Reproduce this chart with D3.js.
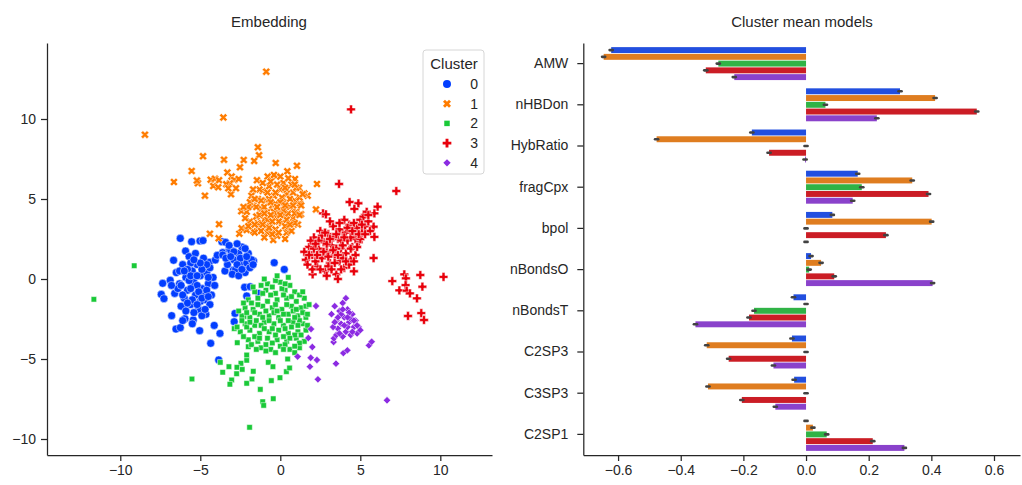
<!DOCTYPE html>
<html>
<head>
<meta charset="utf-8">
<script src="https://cdn.jsdelivr.net/npm/d3@7"></script>
<style>
  body { margin: 0; background: #fff; }
  text { font-family: "Liberation Sans", Arial, sans-serif; fill: #262626; }
  .axis path, .axis line { stroke: #262626; stroke-width: 1.25; }
  .axis text { font-size: 14px; fill: #262626; }
</style>
</head>
<body>
<div id="chart"></div>
<script>
var W = 1022, H = 485;

// ---- data: embedding (left panel), one array per cluster ----
var clusters = ["0", "1", "2", "3", "4"];
var palette = ["#023eff", "#ff7c00", "#1ac938", "#e8000b", "#8b2be2"];

var cluster0 = [
  [-6.25,2.54],[-5.54,2.33],[-5.02,2.38],[-4.83,2.40],[-5.92,1.75],[-6.67,1.17],[-5.46,1.19],
  [-6.88,-0.08],[-7.35,-0.27],[-7.44,-0.96],[-7.27,-1.23],[-6.79,-2.29],[-6.52,-3.13],[-6.25,-3.04],
  [-5.04,-3.23],[-5.44,-2.56],[-5.96,-2.48],[-4.65,-2.21],[-4.13,-2.9],[-3.77,-3.4],[-4.35,-4.02],
  [-3.85,-5.06],[-5.96,-1.79],[-4.44,1.04],[-4.06,1.19],[-3.6,1.65],[-3.65,2.33],[-3.42,2.29],
  [-3.94,1.48],[-3.19,1.85],[-3.0,1.75],[-2.02,1.56],[-1.67,1.13],[-2.73,1.19],[-2.42,0.96],
  [-2.27,0.65],[-2.94,0.56],[-3.46,0.5],[-0.38,1.02],[0.25,0.6],[-2.23,-0.52],[-1.88,-0.48],
  [-2.1,-1.06],[-1.35,-0.9],[-2.83,-2.15],[-2.88,-2.67],
  [-6.5,0.4],[-6.3,-0.3],[-6.1,0.9],[-6.0,-1.2],[-5.9,0.1],[-5.8,-0.7],[-5.7,1.4],[-5.6,-1.6],
  [-5.5,0.5],[-5.4,-0.2],[-5.3,-1.0],[-5.2,0.9],[-5.1,-1.9],[-5.0,0.2],[-4.9,-0.6],[-4.8,1.3],
  [-4.7,-1.3],[-4.6,0.4],[-4.5,-0.3],[-4.4,0.7],[-4.3,-1.0],[-6.6,-0.9],[-6.2,-1.7],[-5.4,-2.1],
  [-4.9,-2.3],[-4.2,0.1],[-5.6,1.0],[-6.4,-0.6],[-5.2,-0.4],[-4.8,-0.9],[-5.9,-2.0],[-4.4,-1.6],
  [-5.3,1.6],[-4.6,0.9],[-6.8,-0.4],[-5.7,-0.1],[-5.0,-1.4],[-4.1,-0.4],[-6.1,-2.6],[-5.5,-2.8],
  [-4.7,-1.9],[-5.8,0.6],[-6.3,0.5],
  [-6.0,0.5],[-5.6,0.2],[-5.2,0.2],[-4.9,0.6],[-4.5,0.1],[-6.2,-0.4],[-5.6,-0.6],[-5.1,-0.8],
  [-4.6,-0.7],[-6.1,-1.0],[-5.5,-1.3],[-4.9,-1.2],[-5.8,-1.5],[-5.2,-1.6],[-4.5,-1.1],[-5.0,1.0],
  [-5.4,1.2],
  [-3.6,1.5],[-3.3,0.9],[-3.1,1.8],[-2.9,1.2],[-2.8,0.6],[-2.6,1.6],[-2.5,0.9],[-2.4,2.0],
  [-2.3,1.3],[-2.2,0.4],[-2.1,1.0],[-2.0,1.6],[-1.9,0.7],[-1.8,1.2],[-3.0,0.3],[-2.7,2.2],
  [-3.4,1.3],[-2.2,1.9],[-1.7,0.9],[-2.6,0.2],[-3.2,2.1],
  [-2.9,1.7],[-2.5,1.3],[-2.1,1.4],[-2.7,0.9],[-3.1,1.4],[-2.4,0.6]
];

var cluster1 = [
  [-0.88,12.96],[-3.56,10.1],[-8.46,9.02],[-6.65,6.06],[-5.54,6.75],[-4.83,7.67],[-3.52,7.46],
  [-2.29,7.44],[-1.4,8.23],[-1.33,7.73],[-1.63,7.38],[-2.52,6.98],[-0.29,7.25],[1.04,7.08],
  [2.29,5.94],[2.23,4.35],[1.71,5.21],[1.29,4.04],[-4.71,5.21],[-3.83,3.42],[-4.4,2.83],
  [-3.85,2.54],[-2.56,2.83],[-2.42,3.17],[-2.44,4.23],[-5.15,5.98],[-5.21,6.15],[-4.35,6.21],
  [-4.08,6.27],[-3.83,6.17],[-4.19,5.81],[-3.88,5.73],[-3.31,6.65],[-3.04,6.4],[-2.88,6.19],
  [-2.6,6.25],[-3.15,5.98],[-3.08,5.29],[-2.77,5.67],[-3.38,5.92],[-3.25,5.67],[0.44,6.73],
  [0.92,6.25],[-0.79,6.4],[-1.46,6.17],[-0.27,6.4],[1.17,5.71],[1.5,5.35],[1.23,4.73],
  [-2.1,3.06],[-1.69,3.0],[-0.44,2.44],[0.4,2.9],
  [-2.1,4.2],[-1.9,3.6],[-1.7,4.6],[-1.5,3.9],[-1.4,5.0],[-1.3,3.3],[-1.2,4.4],[-1.1,5.5],
  [-1.0,3.7],[-0.9,4.9],[-0.8,2.9],[-0.8,4.2],[-0.7,5.8],[-0.6,3.4],[-0.5,4.6],[-0.4,5.2],
  [-0.3,3.9],[-0.2,2.7],[-0.1,4.3],[0.0,5.6],[0.1,3.5],[0.2,4.8],[0.3,4.0],[0.4,5.3],
  [0.5,3.2],[0.6,4.5],[0.7,5.9],[0.8,3.8],[0.9,4.9],[1.0,4.2],[1.1,3.4],[1.2,5.1],
  [-1.6,2.9],[-1.8,5.2],[-2.0,3.3],[-1.0,2.6],[-0.6,6.1],[0.0,6.4],[0.3,2.5],[-0.3,3.1],
  [-1.3,4.0],[-0.9,3.3],[-0.4,4.2],[0.1,5.1],[0.5,4.1],[0.8,5.4],[-1.5,4.5],[-0.7,5.0],
  [-0.2,5.9],[0.4,3.7],[1.3,4.6],[-2.2,3.8],[-1.1,6.0],[0.2,6.0],[-0.5,2.8],[0.7,3.0],
  [1.0,5.7],[-1.9,4.8],[-0.1,3.6],[0.6,5.0],[-0.8,3.7],[-1.4,3.5],[-0.3,4.7],[0.2,4.3],
  [-1.2,4.9],[0.9,4.1],[-0.6,4.0],[0.0,4.8],[-1.0,4.5],[0.4,5.6],
  [-1.6,3.4],[-1.2,3.0],[-0.7,3.2],[-0.1,2.9],[0.3,3.3],[0.9,3.5],[-2.0,4.5],[-1.6,5.0],
  [-1.0,4.1],[-0.6,4.8],[-0.2,4.5],[0.3,4.6],[0.8,4.6],[1.2,4.0],[-1.3,5.6],[-0.8,5.4],
  [-0.3,5.4],[0.3,5.7],[0.9,5.9],[-0.4,6.5],[0.5,6.3],[-1.7,5.6],[1.4,5.3],[-2.3,4.5],
  [-0.5,3.6],[0.0,4.0],[0.6,3.4],[-1.1,3.4]
];

var cluster2 = [
  [-9.13,0.83],[-11.65,-1.27],[-5.52,-6.25],[-1.92,-9.27],[-1.1,-7.67],[-1.04,-7.9],[-0.44,-7.48],
  [-1.25,-6.9],[-0.56,-6.35],[-0.02,-6.17],[0.38,-5.79],[0.58,-5.56],[-0.75,-5.21],[-0.46,-5.48],
  [-1.69,-5.77],[-2.1,-5.08],[-2.46,-5.27],[-2.71,-5.52],[-3.21,-5.48],[-3.6,-5.83],[-3.75,-5.21],
  [-3.04,-6.31],[-3.15,-6.58],[-2.1,-6.52],[-1.77,-6.25],[-2.73,-5.92],[-2.38,-5.65],[-2.1,-4.75],
  [-2.69,-3.98],[-2.88,-3.1],[-2.27,-2.35],[-2.0,-4.23],[0.46,-5.0],
  [-0.8,-0.3],[0.0,-0.2],[0.6,-0.4],
  [-1.6,-0.8],[-0.9,-0.7],[-0.3,-0.9],[0.3,-0.7],[0.9,-0.8],
  [-2.0,-1.3],[-1.4,-1.2],[-0.8,-1.4],[-0.2,-1.3],[0.4,-1.2],[1.0,-1.4],[1.5,-1.2],
  [-2.2,-1.8],[-1.7,-1.9],[-1.1,-1.7],[-0.5,-1.8],[0.1,-1.9],[0.7,-1.7],[1.3,-1.8],
  [-2.4,-2.3],[-1.9,-2.4],[-1.3,-2.2],[-0.7,-2.3],[-0.1,-2.4],[0.5,-2.2],[1.1,-2.3],[1.6,-2.4],
  [-2.2,-2.8],[-1.6,-2.9],[-1.0,-2.7],[-0.4,-2.8],[0.2,-2.9],[0.8,-2.7],[1.4,-2.8],
  [-2.5,-3.3],[-1.9,-3.2],[-1.3,-3.4],[-0.7,-3.3],[-0.1,-3.2],[0.5,-3.4],[1.1,-3.3],[1.6,-3.2],
  [-2.0,-3.8],[-1.4,-3.9],[-0.8,-3.7],[-0.2,-3.8],[0.4,-3.9],[1.0,-3.7],[1.5,-3.9],
  [-1.2,-4.3],[-0.6,-4.4],[0.0,-4.2],[0.6,-4.4],[1.2,-4.3],
  [-1.1,-0.9],[-0.5,-0.5],[0.2,-1.0],[-1.8,-1.5],[-0.9,-2.0],[0.8,-2.0],[-1.5,-2.6],[0.0,-2.6],
  [1.2,-2.6],[-2.1,-3.0],[-0.5,-3.1],[0.7,-3.0],[-1.6,-3.6],[0.2,-3.6],[1.3,-3.5],[-0.9,-4.1],
  [0.3,-4.1],[-0.3,-4.6],[0.9,-4.6],[-0.3,-0.1],[0.5,0.1],[-2.6,-2.0],[1.7,-2.9],[-1.2,-0.4],
  [-1.7,-0.5],[-0.6,-1.0],[0.1,-0.6],[0.7,-1.1],[1.2,-1.0],[-2.3,-1.5],[-1.4,-1.6],[-0.3,-1.6],
  [0.4,-1.6],[1.0,-1.9],[1.6,-1.7],[-2.1,-2.1],[-1.6,-2.1],[-0.4,-2.1],[0.2,-2.2],[1.4,-2.1],
  [-1.9,-2.7],[-1.2,-2.9],[-0.7,-2.6],[0.5,-2.6],[1.1,-2.9],[-2.3,-3.6],[-1.0,-3.1],[-0.3,-3.5],
  [0.3,-3.1],[0.9,-3.5],[-1.8,-4.1],[-1.3,-3.7],[-0.5,-4.0],[0.6,-3.7],[1.2,-4.0],[-0.9,-4.5],
  [0.2,-4.4],[0.9,-4.2],[-0.2,-2.0],[-1.1,-2.4],[0.9,-2.4],[-2.4,-2.6],[1.7,-2.2],[-1.5,-4.4],
  [-0.2,0.2],[0.3,-0.3],[-1.0,0.0],[1.4,-0.8],[1.8,-1.6],[-2.7,-3.0]
];

var cluster3 = [
  [4.42,10.6],[3.67,5.94],[7.25,5.5],[4.33,4.81],[4.88,4.73],[4.63,4.38],[6.08,4.52],[5.88,4.1],
  [2.67,4.1],[2.85,4.04],[5.83,1.31],[5.88,2.63],[2.02,0.29],[4.6,0.48],[5.83,3.27],[5.29,4.0],
  [7.0,-0.13],[7.75,0.29],[7.85,0.04],[8.75,0.25],[10.2,0.13],[8.88,-0.48],[7.83,-0.38],
  [7.44,-0.71],[7.9,-0.73],[8.1,-0.9],[8.54,-1.21],[7.98,-2.31],[8.81,-2.13],[8.98,-2.56],
  [1.6,1.2],[1.8,2.0],[2.0,1.5],[2.1,2.6],[2.3,0.8],[2.4,1.9],[2.5,3.0],[2.6,1.3],[2.7,2.3],
  [2.8,0.5],[2.9,1.7],[3.0,2.8],[3.1,1.0],[3.2,2.1],[3.3,3.3],[3.4,1.5],[3.5,0.3],[3.6,2.5],
  [3.7,1.1],[3.8,1.9],[3.9,2.9],[4.0,0.7],[4.1,1.6],[4.2,2.4],[4.3,3.4],[4.4,1.2],[4.5,2.0],
  [4.6,2.8],[4.7,1.5],[4.8,3.2],[4.9,2.3],[5.0,3.7],[5.1,2.9],[5.2,3.9],[5.3,3.3],[5.4,4.2],
  [5.5,3.6],[1.5,1.7],[2.2,1.1],[2.6,2.7],[3.0,0.8],[3.3,2.6],[3.5,1.9],[3.9,1.3],[4.1,2.9],
  [4.4,1.9],[4.7,2.5],[2.0,0.6],[2.4,2.4],[3.1,3.6],[3.7,3.1],[4.0,3.7],[4.6,3.5],[5.0,2.5],
  [5.6,3.0],[2.9,2.2],[3.4,1.0],[4.3,0.9],[1.9,2.4],[3.8,2.4],
  [1.7,0.9],[2.1,1.9],[2.3,1.5],[2.5,0.6],[2.7,1.7],[2.8,2.9],[3.0,1.4],[3.2,0.6],[3.3,1.8],
  [3.5,2.8],[3.6,1.5],[3.8,0.6],[3.9,2.1],[4.1,1.1],[4.2,3.2],[4.4,2.6],[4.6,1.1],[4.8,2.0],
  [4.9,2.8],[5.1,3.4],[5.3,2.8],[5.5,4.0],[2.2,2.2],[3.1,2.5],[3.7,3.5],[4.5,3.0],[2.9,0.2],
  [3.6,0.0],[1.8,1.5],[4.0,2.6]
];

var cluster4 = [
  [2.23,-1.69],[1.92,-3.13],[1.75,-3.69],[2.0,-4.25],[1.08,-4.85],[1.9,-4.92],[2.29,-5.06],
  [1.85,-5.48],[2.35,-6.27],[3.48,-5.29],[3.94,-4.63],[4.19,-4.46],[5.54,-4.15],[5.71,-3.92],
  [6.67,-7.58],[3.33,-3.94],[3.35,-3.71],
  [3.2,-2.2],[3.4,-1.7],[3.5,-2.6],[3.6,-3.1],[3.7,-2.0],[3.8,-2.8],[3.9,-1.5],[4.0,-2.4],
  [4.1,-3.3],[4.2,-1.9],[4.3,-2.7],[4.4,-3.5],[4.5,-2.2],[4.6,-3.0],[4.7,-2.6],[4.8,-3.4],
  [4.9,-3.0],[5.0,-3.2],[3.5,-3.5],[3.9,-3.6],[4.1,-1.2],[3.3,-3.0],[4.4,-2.5],[3.8,-2.2],
  [4.2,-3.0],
  [3.6,-2.4],[4.0,-2.9],[4.3,-2.1],[4.6,-2.6],[3.7,-3.4],[4.5,-3.3],[3.9,-1.9],[4.8,-2.9],
  [3.4,-2.7],[4.2,-2.4]
];

var xTicksL = [-10, -5, 0, 5, 10];
var yTicksL = [-10, -5, 0, 5, 10];

// ---- data: cluster mean models (right panel), one value per cluster ----
var features = ["AMW", "nHBDon", "HybRatio", "fragCpx", "bpol", "nBondsO", "nBondsT", "C2SP3", "C3SP3", "C2SP1"];
var mean0 = [-0.622, 0.300, -0.173, 0.165, 0.084, 0.016, -0.040, -0.045, -0.038, 0.000];
var mean1 = [-0.646, 0.412, -0.477, 0.339, 0.401, 0.048, 0.000, -0.317, -0.313, 0.022];
var mean2 = [-0.280, 0.062, 0.000, 0.178, 0.000, 0.010, -0.166, 0.000, 0.000, 0.066];
var mean3 = [-0.320, 0.545, -0.118, 0.391, 0.255, 0.090, -0.182, -0.247, -0.205, 0.213];
var mean4 = [-0.229, 0.226, -0.003, 0.149, 0.000, 0.404, -0.353, -0.104, -0.098, 0.314];
var ciHalf = 0.005;
var xTicksR = [-0.6, -0.4, -0.2, 0.0, 0.2, 0.4, 0.6];

var svg = d3.select("#chart").append("svg")
    .attr("width", W)
    .attr("height", H);

// ================= left: embedding =================
var xL = d3.scaleLinear().domain([-14.58, 13.23]).range([47, 492]);
var yL = d3.scaleLinear().domain([-11.0, 14.75]).range([455, 43]);

var shapes = [
  { type: d3.symbolCircle, size: 50, rot: 0 },
  { type: d3.symbolCross, size: 40, rot: 45 },
  { type: d3.symbolSquare, size: 30, rot: 0 },
  { type: d3.symbolCross, size: 42, rot: 0 },
  { type: d3.symbolSquare, size: 27, rot: 45 }
];

var pts = [cluster0, cluster1, cluster2, cluster3, cluster4];

svg.append("text")
    .attr("x", 269).attr("y", 27)
    .attr("text-anchor", "middle")
    .style("font-size", "15px")
    .text("Embedding");

var gPts = svg.append("g");
pts.forEach(function(arr, k) {
  var sym = d3.symbol().type(shapes[k].type).size(shapes[k].size);
  gPts.selectAll(".p" + k)
      .data(arr)
    .enter().append("path")
      .attr("class", "p" + k)
      .attr("d", sym)
      .attr("transform", function(d) {
        return "translate(" + xL(d[0]) + "," + yL(d[1]) + ") rotate(" + shapes[k].rot + ")";
      })
      .attr("fill", palette[k])
      .attr("stroke", "#fff")
      .attr("stroke-width", 0.5);
});

svg.append("g")
    .attr("class", "axis")
    .attr("transform", "translate(0,455)")
    .call(d3.axisBottom(xL).tickValues(xTicksL).tickSize(6).tickPadding(4).tickSizeOuter(0));

svg.append("g")
    .attr("class", "axis")
    .attr("transform", "translate(47,0)")
    .call(d3.axisLeft(yL).tickValues(yTicksL).tickSize(6).tickPadding(5).tickSizeOuter(0));

// legend
var leg = svg.append("g").attr("transform", "translate(423,50)");
leg.append("rect")
    .attr("width", 61).attr("height", 124)
    .attr("rx", 3)
    .attr("fill", "#fff").attr("fill-opacity", 0.8)
    .attr("stroke", "#d6d6d6");
leg.append("text")
    .attr("x", 31).attr("y", 19)
    .attr("text-anchor", "middle")
    .style("font-size", "15px")
    .text("Cluster");
clusters.forEach(function(c, k) {
  var yy = 34 + k * 19.7;
  leg.append("path")
      .attr("d", d3.symbol().type(shapes[k].type).size(shapes[k].size)())
      .attr("transform", "translate(24," + yy + ") rotate(" + shapes[k].rot + ")")
      .attr("fill", palette[k]);
  leg.append("text")
      .attr("x", 55).attr("y", yy + 5)
      .attr("text-anchor", "end")
      .style("font-size", "14px")
      .text(c);
});

// ================= right: cluster mean models =================
var means = [mean0, mean1, mean2, mean3, mean4];
var xR = d3.scaleLinear().domain([-0.711, 0.683]).range([583.3, 1020]);
var yR = d3.scaleBand().domain(features).range([43, 455]).paddingInner(0.2).paddingOuter(0.1);
var yInner = d3.scaleBand().domain(clusters).range([0, yR.bandwidth()]).paddingInner(0.12);

svg.append("text")
    .attr("x", 802).attr("y", 27)
    .attr("text-anchor", "middle")
    .style("font-size", "15px")
    .text("Cluster mean models");

var barColor = palette.map(function(c) {
  var h = d3.hsl(c);
  h.s = h.s * 0.75;
  return h.formatHex();
});

var rows = [];
features.forEach(function(f, i) {
  means.forEach(function(m, k) {
    rows.push({ feature: f, cluster: clusters[k], k: k, v: m[i] });
  });
});

var gBars = svg.append("g");
gBars.selectAll("rect")
    .data(rows)
  .enter().append("rect")
    .attr("x", function(d) { return xR(Math.min(0, d.v)); })
    .attr("y", function(d) { return yR(d.feature) + yInner(d.cluster); })
    .attr("width", function(d) { return Math.abs(xR(d.v) - xR(0)); })
    .attr("height", yInner.bandwidth())
    .attr("fill", function(d) { return barColor[d.k]; });

gBars.selectAll("line")
    .data(rows)
  .enter().append("line")
    .attr("x1", function(d) { return xR(d.v - ciHalf); })
    .attr("x2", function(d) { return xR(d.v + ciHalf); })
    .attr("y1", function(d) { return yR(d.feature) + yInner(d.cluster) + yInner.bandwidth() / 2; })
    .attr("y2", function(d) { return yR(d.feature) + yInner(d.cluster) + yInner.bandwidth() / 2; })
    .attr("stroke", "#424242")
    .attr("stroke-width", 2.6)
    .attr("stroke-linecap", "round");

svg.append("g")
    .attr("class", "axis")
    .attr("transform", "translate(0,455)")
    .call(d3.axisBottom(xR).tickValues(xTicksR).tickFormat(d3.format(".1f")).tickSize(6).tickPadding(4).tickSizeOuter(0));

svg.append("g")
    .attr("class", "axis")
    .attr("transform", "translate(583.3,0)")
    .call(d3.axisLeft(yR).tickSize(6).tickPadding(9).tickSizeOuter(0));
</script>
</body>
</html>
